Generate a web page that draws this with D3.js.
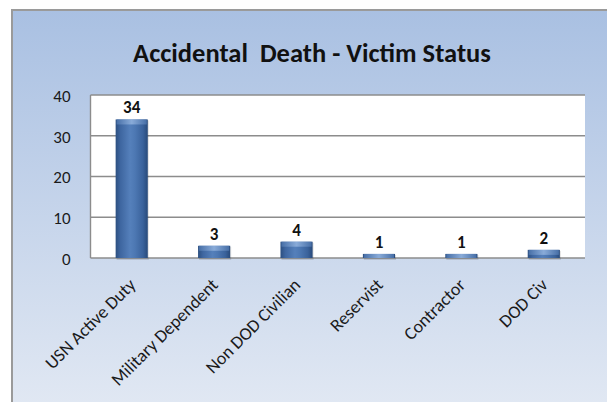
<!DOCTYPE html>
<html>
<head>
<meta charset="utf-8">
<script src="https://cdn.jsdelivr.net/npm/d3@7/dist/d3.min.js"></script>
<style>
  html, body { margin: 0; padding: 0; background: #ffffff; }
  svg { display: block; }
  text { font-family: Carlito, Lato, "Liberation Sans", sans-serif; }
</style>
</head>
<body>
<svg id="chart" width="607" height="402"></svg>
<script>
const categories = ["USN Active Duty", "Military Dependent", "Non DOD Civilian", "Reservist", "Contractor", "DOD Civ"];
const values = [34, 3, 4, 1, 1, 2];
const yTicks = [0, 10, 20, 30, 40];
const titleText = "Accidental  Death - Victim Status";

const W = 607, H = 402;
const frame = { x: 12, y: 10 };
const plot = { left: 90.5, right: 585, top: 95, bottom: 258 };

const svg = d3.select("#chart");
const defs = svg.append("defs");

const bg = defs.append("linearGradient").attr("id", "bg").attr("x1", 0).attr("y1", 0).attr("x2", 0).attr("y2", 1);
bg.append("stop").attr("offset", "0%").attr("stop-color", "#a9c0e2");
bg.append("stop").attr("offset", "100%").attr("stop-color", "#e1e8f3");

const barG = defs.append("linearGradient").attr("id", "barG").attr("x1", 0).attr("y1", 0).attr("x2", 1).attr("y2", 0);
[["0%", "#2c4f80"], ["15%", "#3e66a0"], ["45%", "#5580bb"], ["60%", "#4d78b3"], ["85%", "#3a629b"], ["100%", "#284a7a"]]
  .forEach(([o, c]) => barG.append("stop").attr("offset", o).attr("stop-color", c));

const capG = defs.append("linearGradient").attr("id", "capG").attr("x1", 0).attr("y1", 0).attr("x2", 1).attr("y2", 0);
[["0%", "#4a72aa"], ["50%", "#8fb0dc"], ["100%", "#4a72aa"]]
  .forEach(([o, c]) => capG.append("stop").attr("offset", o).attr("stop-color", c));

// frame background
svg.append("rect").attr("x", frame.x).attr("y", frame.y)
  .attr("width", W - frame.x + 5).attr("height", H - frame.y + 5)
  .attr("fill", "url(#bg)");
svg.append("path")
  .attr("d", `M${frame.x},${H} L${frame.x},${frame.y} L${W},${frame.y}`)
  .attr("fill", "none").attr("stroke", "#9a9a9a").attr("stroke-width", 2);

// title
svg.append("text").attr("x", 312).attr("y", 62)
  .attr("text-anchor", "middle").attr("font-weight", "bold")
  .style("white-space", "pre")
  .attr("font-size", 26.5).attr("fill", "#111").text(titleText);

const x = d3.scaleBand().domain(categories).range([plot.left, plot.right])
  .paddingInner(0.61).paddingOuter(0.305);
const y = d3.scaleLinear().domain([0, 40]).range([plot.bottom, plot.top]);

// plot area
svg.append("rect").attr("x", plot.left).attr("y", plot.top)
  .attr("width", plot.right - plot.left).attr("height", plot.bottom - plot.top)
  .attr("fill", "#ffffff");

// gridlines
svg.append("g").selectAll("line").data(yTicks).join("line")
  .attr("x1", plot.left).attr("x2", plot.right)
  .attr("y1", d => y(d)).attr("y2", d => y(d))
  .attr("stroke", "#8c8c8c").attr("stroke-width", 1.4);

// left axis line
svg.append("line").attr("x1", plot.left).attr("x2", plot.left)
  .attr("y1", plot.top).attr("y2", plot.bottom)
  .attr("stroke", "#8c8c8c").attr("stroke-width", 1.4);

// y axis labels
const yAxis = d3.axisLeft(y).tickValues(yTicks).tickSize(0).tickPadding(0).tickFormat(d3.format("d"));
const yg = svg.append("g").attr("transform", `translate(${plot.left - 20},1)`).call(yAxis);
yg.select(".domain").remove();
yg.selectAll("text").attr("font-size", 17).attr("fill", "#1a1a1a")
  .style("font-family", "Carlito, Lato, 'Liberation Sans', sans-serif");

// bar shadows
svg.append("g").selectAll("rect").data(values).join("rect")
  .attr("x", (d, i) => x(categories[i]) + 1)
  .attr("y", d => y(d) + 1)
  .attr("width", x.bandwidth())
  .attr("height", d => y(0) - y(d) + 1)
  .attr("fill", "#000").attr("opacity", 0.12);

// bars
svg.append("g").selectAll("rect").data(values).join("rect")
  .attr("x", (d, i) => x(categories[i]))
  .attr("y", d => y(d))
  .attr("width", x.bandwidth())
  .attr("height", d => y(0) - y(d))
  .attr("fill", "url(#barG)");

// caps
svg.append("g").selectAll("rect").data(values).join("rect")
  .attr("x", (d, i) => x(categories[i]) + 1)
  .attr("y", d => y(d))
  .attr("width", x.bandwidth() - 2)
  .attr("height", d => Math.min(5, y(0) - y(d)))
  .attr("fill", "url(#capG)").attr("opacity", 0.9);

// value labels
svg.append("g").selectAll("text").data(values).join("text")
  .attr("x", (d, i) => x(categories[i]) + x.bandwidth() / 2)
  .attr("y", d => y(d) - 6)
  .attr("text-anchor", "middle").attr("font-weight", "bold")
  .attr("font-size", 17).attr("fill", "#111")
  .text(d => d);

// x labels
svg.append("g").selectAll("text").data(categories).join("text")
  .attr("transform", d => `translate(${x(d) + x.bandwidth() / 2 + 5},${plot.bottom + 28}) rotate(-45)`)
  .attr("text-anchor", "end")
  .attr("font-size", 18).attr("fill", "#1a1a1a")
  .text(d => d);
</script>
</body>
</html>
